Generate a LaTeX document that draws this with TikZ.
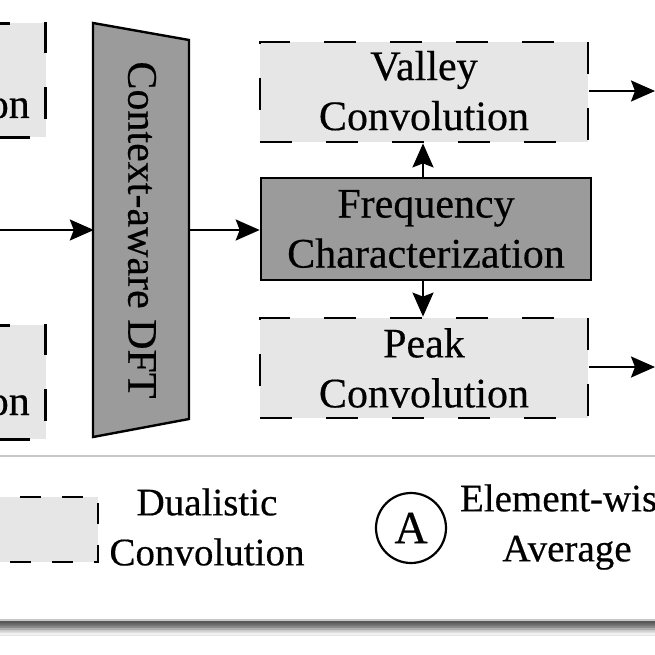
\documentclass[tikz,border=0pt]{standalone}
\usepackage{fontspec}
\setmainfont{Liberation Serif}[FakeBold=0.4]
\usetikzlibrary{arrows.meta,shadows.blur}
\definecolor{lightfill}{RGB}{230,230,230}
\definecolor{darkfill}{RGB}{155,155,155}
\newcommand{\mainfnt}{\fontsize{42}{50}\selectfont}
\newcommand{\legfnt}{\fontsize{39}{50}\selectfont}
\begin{document}
\begin{tikzpicture}[x=1pt,y=-1pt,
  convbox/.style={draw, line width=2.8pt, dash pattern=on 32pt off 34pt, fill=lightfill,
    minimum width=328pt, minimum height=100pt, inner sep=0pt, align=center, font=\mainfnt},
  freqbox/.style={draw, line width=2.6pt, fill=darkfill, minimum width=330pt,
    minimum height=102pt, inner sep=0pt, align=center, font=\mainfnt},
  legconv/.style={draw, line width=2.2pt, dash pattern=on 21pt off 21pt, fill=lightfill,
    inner sep=0pt},
  arr/.style={line width=2.2pt, -{Stealth[length=24pt,width=21pt,inset=4pt]}},
  panel/.style={fill=white, draw=black!22, line width=1.5pt,
    blur shadow={shadow xshift=0pt, shadow yshift=-9pt, shadow blur radius=6pt, shadow opacity=65}},
]
\useasboundingbox (0,0) rectangle (655,655);
\fill[white] (0,0) rectangle (655,655);

% legend panel
\node[panel, minimum width=720pt, minimum height=164pt, inner sep=0pt] (legend) at (327.5,538) {};

% left partial boxes
\node[convbox, minimum width=180pt, minimum height=114pt, anchor=north east] (lefta) at (47,22) {};
\node[anchor=base east, font=\mainfnt, inner sep=0pt] (leftatext) at (30,118) {on};
\node[convbox, minimum width=180pt, minimum height=114pt, anchor=north east] (leftb) at (47,324) {};
\node[anchor=base east, font=\mainfnt, inner sep=0pt] (leftbtext) at (30,415) {on};

% context-aware DFT trapezoid
\draw[fill=darkfill, line width=2.4pt, line join=miter] (93,23) -- (189,40) -- (189,419) -- (93,437) -- cycle;
\node[minimum width=96pt, minimum height=396pt, inner sep=0pt, font=\mainfnt] (dft) at (142,230)
  {\rotatebox{-90}{Context-aware DFT}};

% main boxes
\node[convbox] (valley) at (424,92) {\raisebox{3pt}{Valley}\\\raisebox{3pt}{Convolution}};
\node[freqbox] (freq) at (426,229) {Frequency\\Characterization};
\node[convbox] (peak) at (424,368) {Peak\\Convolution};

% connectors
\coordinate (in) at (0,230);
\coordinate (vout) at (655,91);
\coordinate (pout) at (655,367);
\draw[arr] (in) -- (dft.west |- in);
\draw[arr] (dft.east |- in) -- (freq.west |- in);
\draw[arr] (freq.north -| 423,0) -- (valley.south -| 423,0);
\draw[arr] (freq.south -| 423,0) -- (peak.north -| 423,0);
\draw[arr] (valley.east |- vout) -- (vout);
\draw[arr] (peak.east |- pout) -- (pout);

% legend content
\node[legconv, minimum width=130pt, minimum height=65pt, anchor=north east] (legbox) at (99,496) {};
\node[font=\legfnt, align=center, inner sep=0pt] (legtext) at (207,527) {Dualistic\\Convolution};
\node[draw, circle, line width=2.2pt, minimum size=70pt, inner sep=0pt, font=\fontsize{46}{50}\selectfont] (avgsym) at (411,528) {A};
\node[font=\legfnt, align=center, inner sep=0pt] (avgtext) at (567,527) {\makebox[214pt][l]{Element-wis}\\Average};
\end{tikzpicture}
\end{document}
